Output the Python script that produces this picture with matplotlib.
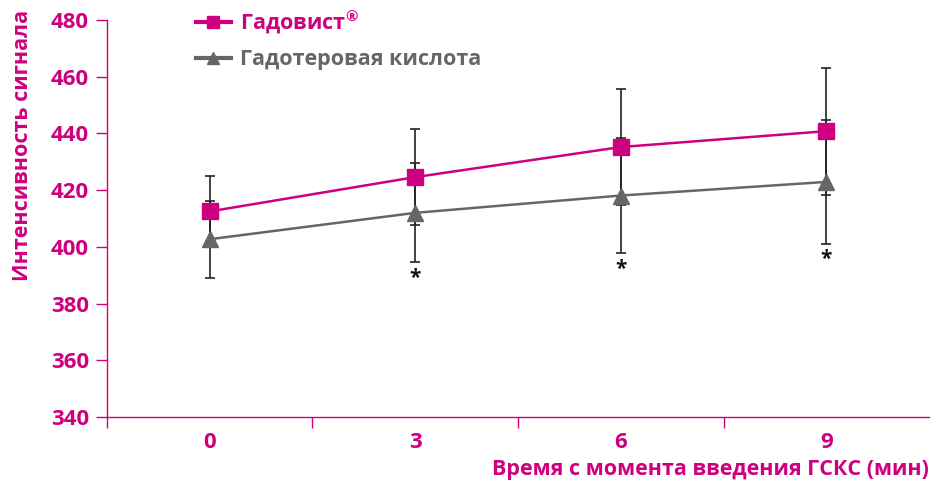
import matplotlib
matplotlib.use("Agg")
import matplotlib.pyplot as plt

plt.rcParams['font.family'] = ['Open Sans', 'DejaVu Sans']
plt.rcParams['mathtext.fontset'] = 'custom'
plt.rcParams['mathtext.rm'] = 'Open Sans'
plt.rcParams['mathtext.bf'] = 'Open Sans:bold'

times = ["0", "3", "6", "9"]
gadovist = [412.5, 424.6, 435.2, 440.8]
gadovist_err = [12.5, 17.0, 20.6, 22.4]
gadoterate = [402.7, 412.0, 418.1, 422.9]
gadoterate_err = [13.6, 17.4, 20.3, 21.8]
significant = [False, True, True, True]

label1 = "Гадовист$^{\\mathbf{®}}$"
label2 = "Гадотеровая кислота"
xlabel = "Время с момента введения ГСКС (мин)"
ylabel = "Интенсивность сигнала"

MAG = "#CF007F"
GRAY = "#666666"

fig = plt.figure(figsize=(9.32, 4.83), dpi=100)
ax = fig.add_axes([0.1148, 0.1366, 0.882, 0.822])

x = list(range(len(times)))

ax.errorbar(x, gadoterate, yerr=gadoterate_err, fmt='none', ecolor='#222222',
            elinewidth=1.2, capsize=3.5, capthick=1.2, zorder=2)
ax.errorbar(x, gadovist, yerr=gadovist_err, fmt='none', ecolor='#222222',
            elinewidth=1.2, capsize=3.5, capthick=1.2, zorder=2)
ax.plot(x, gadovist, color=MAG, marker='s', markersize=11, linewidth=1.8,
        label=label1, zorder=3)
ax.plot(x, gadoterate, color=GRAY, marker='^', markersize=11, linewidth=1.8,
        label=label2, zorder=3)

for xi, v, e, s in zip(x, gadoterate, gadoterate_err, significant):
    if s:
        ax.annotate("*", (xi, v - e), xytext=(0, -15.5), textcoords='offset points',
                    ha='center', va='baseline', fontsize=15, fontweight='bold',
                    color='#111111')

ax.set_xlim(-0.5, 3.5)
ax.set_ylim(340, 480)
ax.set_yticks(range(340, 481, 20))
ax.set_xticks(x)
ax.set_xticklabels(times)
ax.set_xticks([-0.5, 0.5, 1.5, 2.5], minor=True)

for sp in ['top', 'right']:
    ax.spines[sp].set_visible(False)
for sp in ['left', 'bottom']:
    ax.spines[sp].set_color(MAG)
    ax.spines[sp].set_linewidth(1.0)

ax.tick_params(axis='y', which='major', direction='out', length=8, width=1.0,
               color=MAG, labelcolor=MAG, labelsize=16, pad=5)
ax.tick_params(axis='x', which='major', length=0, labelcolor=MAG,
               labelsize=16, pad=11)
ax.tick_params(axis='x', which='minor', direction='out', length=8, width=1.0,
               color=MAG)
for lab in ax.get_xticklabels() + ax.get_yticklabels():
    lab.set_fontweight('bold')

ax.set_xlabel(xlabel, color=MAG, fontsize=15.5, fontweight='bold')
ax.xaxis.set_label_coords(1.0, -0.106)
ax.xaxis.label.set_ha('right')
ax.xaxis.label.set_va('top')
ax.set_ylabel(ylabel, color=MAG, fontsize=15.5, fontweight='bold')
ax.yaxis.set_label_coords(-0.09, 0.683)

leg = ax.legend(loc='upper left', bbox_to_anchor=(0.085, 1.078), frameon=False,
                fontsize=15.5, handlelength=1.6, handletextpad=0.45,
                labelspacing=0.62, markerscale=0.8)
for line in leg.get_lines():
    line.set_linewidth(3)
for t, c in zip(leg.get_texts(), [MAG, GRAY]):
    t.set_color(c)
    t.set_fontweight('bold')

fig.savefig("out.png", dpi=100)
